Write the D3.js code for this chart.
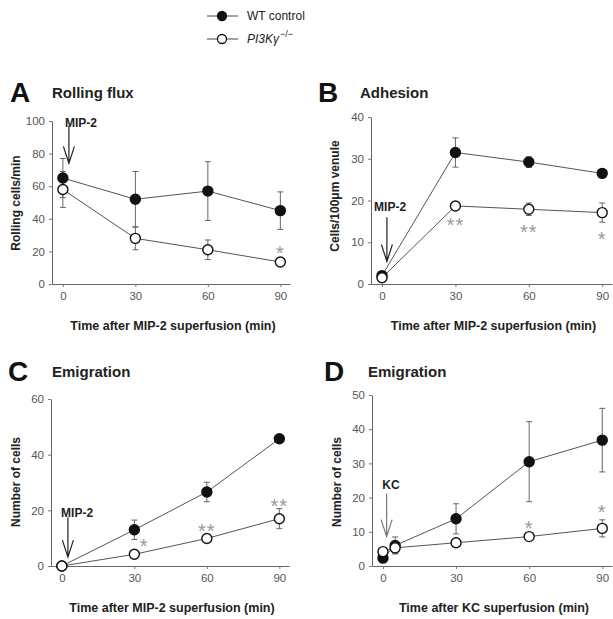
<!DOCTYPE html>
<meta charset="utf-8">
<script src="https://d3js.org/d3.v7.min.js"></script>
<style>
  body { margin: 0; background: #fff; }
  svg text { font-family: "Liberation Sans", Arial, sans-serif; }
</style>
<div id="my_dataviz"></div>
<script>

  // ---- data ----
  var timesABC = [0, 30, 60, 90];
  var timesD = [0, 5, 30, 60, 90];

  var wtA = [65, 52, 57, 45], wtAErr = [12, 17, 18, 11.5];
  var koA = [58, 28, 21, 13.5], koAErr = [11, 7, 6, 1];

  var wtB = [2, 31.5, 29.2, 26.5], wtBErr = [0.5, 3.5, 1.3, 0.8];
  var koB = [1.5, 18.7, 17.9, 17.1], koBErr = [0.5, 0.8, 1.5, 2.3];

  var wtC = [0, 13, 26.6, 45.7], wtCErr = [0, 3.5, 3.5, 0.5];
  var koC = [0, 4.2, 9.9, 17], koCErr = [0, 0.7, 0.7, 3.6];

  var wtD = [2.3, 6, 13.8, 30.5, 36.8], wtDErr = [0.5, 2.5, 4.4, 11.7, 9.3];
  var koD = [4.2, 5.3, 6.8, 8.6, 11], koDErr = [0.5, 1.5, 0.5, 0.5, 2.5];

  var starsA = [[90, 21.5, "*"]];
  var starsB = [[30, 15, "**"], [60, 13.3, "**"], [90, 11.8, "*"]];
  var starsC = [[34, 8.5, "*"], [60, 14, "**"], [90, 23, "**"]];
  var starsD = [[60, 12.2, "*"], [90, 16.9, "*"]];

  var xTicks = [0, 30, 60, 90];

  var W = 613, H = 619;
  var svg = d3.select("#my_dataviz").append("svg")
    .attr("width", W).attr("height", H);

  // legend
  var legend = svg.append("g");
  [["wt", 16], ["ko", 39]].forEach(function (r) {
    legend.append("line").attr("x1", 207).attr("x2", 238).attr("y1", r[1]).attr("y2", r[1])
      .attr("stroke", "#444").attr("stroke-width", 1);
    legend.append("circle").attr("cx", 222).attr("cy", r[1]).attr("r", 4.5)
      .attr("fill", r[0] == "wt" ? "#111" : "#fff").attr("stroke", "#111").attr("stroke-width", 1.3);
  });
  legend.append("text").attr("x", 247).attr("y", 20).attr("font-size", 12).attr("fill", "#222")
    .text("WT control");
  var kt = legend.append("text").attr("x", 247).attr("y", 43).attr("font-size", 12).attr("fill", "#222");
  kt.append("tspan").attr("font-style", "italic").text("PI3Kγ");
  kt.append("tspan").attr("font-size", 9).attr("dy", -6).attr("dx", 1).text("−/−");

  var panels = [
    { letter: "A", title: "Rolling flux", lx: 10, tx: 52, ty: 98,
      xr: [52, 290], yr: [284, 121], ymax: 100, yt: d3.range(0, 101, 20),
      ylabel: "Rolling cells/min", ylx: 20, yly: 203,
      xlabel: "Time after MIP-2 superfusion (min)", xly: 330,
      t: timesABC, wt: wtA, wtE: wtAErr, ko: koA, koE: koAErr, stars: starsA,
      arrow: { text: "MIP-2", lx: 7.5, ly: 99, x: 2.5, y1: 97, y2: 74, color: "#222" } },
    { letter: "B", title: "Adhesion", lx: 318, tx: 360, ty: 98,
      xr: [371, 612], yr: [284, 117], ymax: 40, yt: d3.range(0, 41, 10),
      ylabel: "Cells/100μm venule", ylx: 339, yly: 196,
      xlabel: "Time after MIP-2 superfusion (min)", xly: 330,
      t: timesABC, wt: wtB, wtE: wtBErr, ko: koB, koE: koBErr, stars: starsB,
      arrow: { text: "MIP-2", lx: 3.3, ly: 18.6, x: 2, y1: 16, y2: 5.4, color: "#222" } },
    { letter: "C", title: "Emigration", lx: 8, tx: 52, ty: 377,
      xr: [51, 289], yr: [566, 399], ymax: 60, yt: d3.range(0, 61, 20),
      ylabel: "Number of cells", ylx: 20, yly: 482,
      xlabel: "Time after MIP-2 superfusion (min)", xly: 612,
      t: timesABC, wt: wtC, wtE: wtCErr, ko: koC, koE: koCErr, stars: starsC,
      arrow: { text: "MIP-2", lx: 6.3, ly: 19.1, x: 2.5, y1: 17.5, y2: 3.2, color: "#222" } },
    { letter: "D", title: "Emigration", lx: 324, tx: 368, ty: 377,
      xr: [372, 612], yr: [566, 395], ymax: 50, yt: d3.range(0, 51, 10),
      ylabel: "Number of cells", ylx: 341, yly: 482,
      xlabel: "Time after KC superfusion (min)", xly: 612,
      t: timesD, wt: wtD, wtE: wtDErr, ko: koD, koE: koDErr, stars: starsD,
      arrow: { text: "KC", lx: 3.3, ly: 23.7, x: 1.5, y1: 21.2, y2: 8.6, color: "#777" } }
  ];

  panels.forEach(function (p) {
    var g = svg.append("g");
    var x = d3.scaleLinear().domain([-4.5, 94]).range(p.xr);
    var y = d3.scaleLinear().domain([0, p.ymax]).range(p.yr);

    g.append("text").attr("x", p.lx).attr("y", p.ty + 4).attr("font-size", 28)
      .attr("font-weight", "bold").attr("fill", "#111").text(p.letter);
    g.append("text").attr("x", p.tx).attr("y", p.ty).attr("font-size", 15)
      .attr("font-weight", "bold").attr("fill", "#222").text(p.title);

    // axes
    var xAxis = g.append("g").attr("transform", "translate(0," + p.yr[0] + ")")
      .call(d3.axisBottom(x).tickValues(xTicks).tickSize(3).tickSizeOuter(0).tickPadding(5));
    var yAxis = g.append("g").attr("transform", "translate(" + p.xr[0] + ",0)")
      .call(d3.axisLeft(y).tickValues(p.yt).tickSize(3).tickSizeOuter(0).tickPadding(4));
    [xAxis, yAxis].forEach(function (a) {
      a.select(".domain").attr("stroke", "#666");
      a.selectAll(".tick line").attr("stroke", "#777");
      a.selectAll(".tick text").attr("font-size", 11.5).attr("fill", "#555")
        .style("font-family", "Liberation Sans, Arial, sans-serif");
    });

    g.append("text").attr("transform", "translate(" + p.ylx + "," + p.yly + ") rotate(-90)")
      .attr("text-anchor", "middle").attr("font-size", 12).attr("font-weight", "bold")
      .attr("fill", "#222").text(p.ylabel);
    g.append("text").attr("x", (p.xr[0] + p.xr[1]) / 2 + 2).attr("y", p.xly)
      .attr("text-anchor", "middle").attr("font-size", 12.5).attr("font-weight", "bold")
      .attr("fill", "#222").text(p.xlabel);

    // arrow
    var a = p.arrow, ax = x(a.x), ay1 = y(a.y1), ay2 = y(a.y2);
    g.append("text").attr("x", x(a.lx)).attr("y", y(a.ly) + 4.5).attr("text-anchor", "middle")
      .attr("font-size", 12).attr("font-weight", "bold").attr("fill", "#222").text(a.text);
    g.append("path")
      .attr("d", "M" + ax + "," + ay1 + "V" + ay2 + "M" + (ax - 5.5) + "," + (ay2 - 17) +
        "L" + ax + "," + ay2 + "L" + (ax + 5.5) + "," + (ay2 - 17))
      .attr("fill", "none").attr("stroke", a.color).attr("stroke-width", 1.2);

    var series = [
      { v: p.wt, e: p.wtE, fill: "#111" },
      { v: p.ko, e: p.koE, fill: "#fff" }
    ];
    var line = d3.line().x(function (d, i) { return x(p.t[i]); }).y(function (d) { return y(d); });

    series.forEach(function (s) {
      g.append("path").datum(s.v).attr("d", line).attr("fill", "none")
        .attr("stroke", "#555").attr("stroke-width", 1);
    });
    series.forEach(function (s) {
      g.append("g").selectAll("path").data(s.v).enter().append("path")
        .attr("d", function (d, i) {
          var cx = x(p.t[i]), hi = y(d + s.e[i]), lo = y(d - s.e[i]);
          return "M" + cx + "," + hi + "V" + lo + "M" + (cx - 3) + "," + hi + "H" + (cx + 3) +
            "M" + (cx - 3) + "," + lo + "H" + (cx + 3);
        })
        .attr("stroke", "#666").attr("stroke-width", 1).attr("fill", "none");
    });
    series.forEach(function (s) {
      g.append("g").selectAll("circle").data(s.v).enter().append("circle")
        .attr("cx", function (d, i) { return x(p.t[i]); })
        .attr("cy", function (d) { return y(d); })
        .attr("r", 5)
        .attr("fill", s.fill).attr("stroke", "#111").attr("stroke-width", 1.4);
    });

    // significance marks
    g.append("g").selectAll("text").data(p.stars).enter().append("text")
      .attr("x", function (d) { return x(d[0]); })
      .attr("y", function (d) { return y(d[1]) + 11; })
      .attr("text-anchor", "middle").attr("font-size", 20).attr("fill", "#999")
      .attr("letter-spacing", 1)
      .text(function (d) { return d[2]; });
  });

</script>
